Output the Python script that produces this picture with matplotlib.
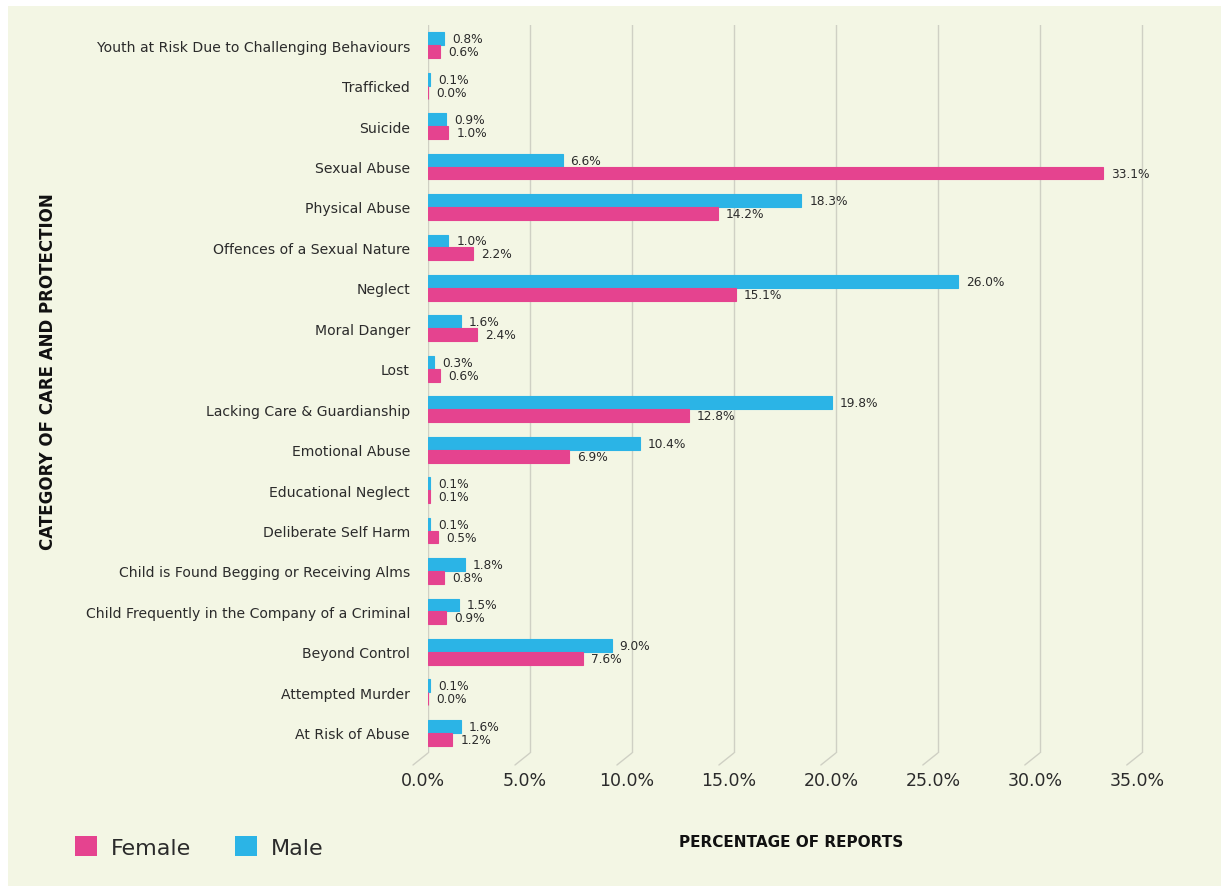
import matplotlib
matplotlib.use("Agg")
import numpy as np
import matplotlib.pyplot as plt
from matplotlib.patches import Patch, Rectangle

# categories, top to bottom as in the report
categories = [
    "Youth at Risk Due to Challenging Behaviours",
    "Trafficked",
    "Suicide",
    "Sexual Abuse",
    "Physical Abuse",
    "Offences of a Sexual Nature",
    "Neglect",
    "Moral Danger",
    "Lost",
    "Lacking Care & Guardianship",
    "Emotional Abuse",
    "Educational Neglect",
    "Deliberate Self Harm",
    "Child is Found Begging or Receiving Alms",
    "Child Frequently in the Company of a Criminal",
    "Beyond Control",
    "Attempted Murder",
    "At Risk of Abuse",
]
male = [0.8, 0.1, 0.9, 6.6, 18.3, 1.0, 26.0, 1.6, 0.3, 19.8, 10.4, 0.1, 0.1, 1.8, 1.5, 9.0, 0.1, 1.6]
female = [0.6, 0.0, 1.0, 33.1, 14.2, 2.2, 15.1, 2.4, 0.6, 12.8, 6.9, 0.1, 0.5, 0.8, 0.9, 7.6, 0.0, 1.2]
xticks = [0, 5, 10, 15, 20, 25, 30, 35]

PINK = "#e5438f"
CYAN = "#2bb4e6"
BG = "#f3f6e4"
GRID = "#cfd0c4"
TXT = "#2b2b2b"

W, H = 1226, 887
fig = plt.figure(figsize=(W / 100, H / 100), dpi=100, facecolor="white")
# cream panel behind everything (thin white border top/left/right)
fig.patches.append(Rectangle((8 / W, 0), (1221 - 8) / W, (H - 7) / H,
                             transform=fig.transFigure, facecolor=BG,
                             edgecolor="none", zorder=-10))

ax = fig.add_axes([428 / W, (H - 754) / H, 726 / W, 728 / H])
ax.set_facecolor("none")

y = np.arange(len(categories))
h = 0.32
ax.barh(y - h / 2, male, height=h, color=CYAN, edgecolor=CYAN, linewidth=0.8, zorder=3)
ax.barh(y + h / 2, female, height=h, color=PINK, edgecolor=PINK, linewidth=0.8, zorder=3)

for i in range(len(categories)):
    ax.annotate(f"{male[i]:.1f}%", xy=(male[i], y[i] - h / 2), xytext=(8, 0),
                textcoords="offset pixels", va="center", ha="left",
                fontsize=8.7, color=TXT)
    ax.annotate(f"{female[i]:.1f}%", xy=(female[i], y[i] + h / 2), xytext=(8, 0),
                textcoords="offset pixels", va="center", ha="left",
                fontsize=8.7, color=TXT)

ax.set_ylim(len(categories) - 0.5, -0.5)
ax.set_xlim(0, 35.6)
ax.set_yticks(y)
ax.set_yticklabels(categories, fontsize=10.1, color=TXT)
ax.tick_params(axis="y", length=0, pad=13)
ax.set_xticks(xticks)
ax.set_xticklabels([])
ax.tick_params(axis="x", length=0)
ax.grid(axis="x", color=GRID, linewidth=1.0, zorder=0)
for s in ax.spines.values():
    s.set_visible(False)

# slanted feet under the gridlines and the tick labels below them
for t in xticks:
    ax.annotate("", xy=(t, 0), xycoords=("data", "axes fraction"),
                xytext=(-15, -12), textcoords="offset pixels",
                arrowprops=dict(arrowstyle="-", color=GRID, lw=1.0,
                                shrinkA=0, shrinkB=0))
    ax.annotate(f"{t:.1f}%", xy=(t, 0), xycoords=("data", "axes fraction"),
                xytext=(-5, -27), textcoords="offset pixels",
                ha="center", va="center", fontsize=12.5, color=TXT)

fig.text(48 / W, 1 - 372 / H, "CATEGORY OF CARE AND PROTECTION", rotation=90,
         ha="center", va="center", fontsize=12, fontweight="bold", color="#111111")
fig.text(791 / W, 1 - 843 / H, "PERCENTAGE OF REPORTS",
         ha="center", va="center", fontsize=11, fontweight="bold", color="#111111")

handles = [Patch(facecolor=PINK, edgecolor="none", label="Female"),
           Patch(facecolor=CYAN, edgecolor="none", label="Male")]
fig.legend(handles=handles, loc="center left", bbox_to_anchor=(55 / W, 1 - 848 / H),
           ncol=2, frameon=False, fontsize=16, handlelength=1.0, handleheight=1.0,
           handletextpad=0.6, columnspacing=2.0, labelcolor=TXT)

fig.savefig("out.png", dpi=100, facecolor=fig.get_facecolor())
